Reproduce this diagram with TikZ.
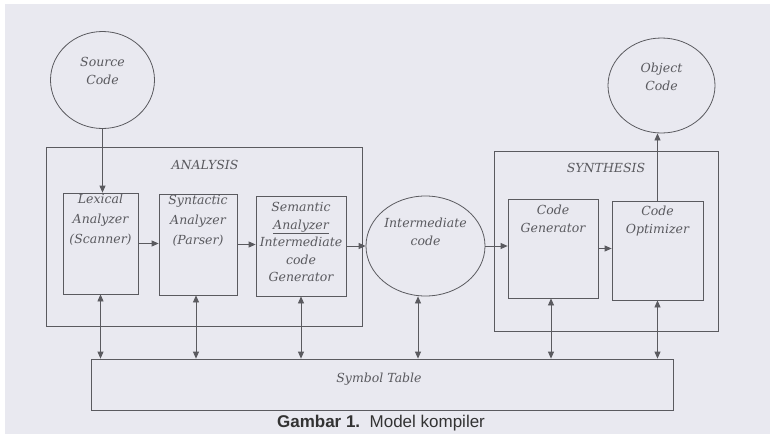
\documentclass[tikz,border=0pt]{standalone}
\usepackage{fontspec}
\setmainfont{DejaVu Serif}
\newfontfamily\capfont{Liberation Sans}
\usetikzlibrary{shapes.geometric,arrows.meta}
\definecolor{bgcol}{RGB}{233,233,240}
\definecolor{linecol}{RGB}{90,90,95}
\definecolor{txtcol}{RGB}{90,90,95}
\tikzset{
  boxshape/.style={draw=linecol, line width=0.8pt, rectangle, inner sep=0pt},
  ovalshape/.style={draw=linecol, line width=0.8pt, ellipse, inner sep=0pt},
  lbl/.style={text=txtcol, font=\fontsize{12.5}{18}\selectfont\itshape, align=center, inner sep=0pt},
  lbltight/.style={lbl, font=\fontsize{12.5}{17.5}\selectfont\itshape},
  lblwide/.style={lbl, font=\fontsize{12.5}{20}\selectfont\itshape},
  arr/.style={draw=linecol, line width=0.8pt, -{Triangle[length=7pt,width=6pt]}},
  darr/.style={draw=linecol, line width=0.8pt, {Triangle[length=7pt,width=6pt]}-{Triangle[length=7pt,width=6pt]}},
}
\begin{document}
\begin{tikzpicture}[x=1pt,y=-1pt]
\fill[white] (0,0) rectangle (770,434);
\fill[bgcol] (5,4) rectangle (770,434);
\useasboundingbox (0,0) rectangle (770,434);

% containers
\node[boxshape, minimum width=316pt, minimum height=179pt] (ana) at (204,236.5) {};
\node[boxshape, minimum width=224pt, minimum height=180pt] (synt) at (606,241) {};
\node[lbl] (anat) at (205,165) {ANALYSIS};
\node[lbl] (syntt) at (606,168) {SYNTHESIS};

% terminals
\node[ovalshape, minimum width=104pt, minimum height=97pt] (src) at (102.5,80) {};
\node[lbl] (srct) at (102.5,70.5) {Source\\Code};
\node[ovalshape, minimum width=107pt, minimum height=95pt] (obj) at (661.5,85.5) {};
\node[lbl] (objt) at (661.5,77) {Object\\Code};

% phases
\node[boxshape, minimum width=75pt, minimum height=101pt] (lex) at (100.5,243.5) {};
\node[lblwide] (lext) at (100.5,220) {Lexical\\Analyzer\\(Scanner)};
\node[boxshape, minimum width=78pt, minimum height=101pt] (syn) at (198,244.5) {};
\node[lblwide] (synt2) at (198,221) {Syntactic\\Analyzer\\(Parser)};
\node[boxshape, minimum width=90pt, minimum height=100pt] (sem) at (301,246) {};
\node[lbltight] (semt) at (301,242) {Semantic\\\underline{Analyzer}\\Intermediate\\code\\Generator};
\node[ovalshape, minimum width=119pt, minimum height=100pt] (inter) at (425.5,246) {};
\node[lbl] (intert) at (425.5,232) {Intermediate\\code};
\node[boxshape, minimum width=90pt, minimum height=99pt] (gen) at (553,248.5) {};
\node[lbltight] (gent) at (553,219) {Code\\Generator};
\node[boxshape, minimum width=91pt, minimum height=99pt] (opt) at (657.5,250.5) {};
\node[lbltight] (optt) at (657.5,221) {Code\\Optimizer};

% symbol table
\node[boxshape, minimum width=582pt, minimum height=51pt] (sym) at (382,384.5) {};
\node[lbl] (symt) at (379,379) {Symbol Table};

% flow
\draw[arr] (src.south) -- (src.south |- lex.north);
\draw[arr] (lex.east) -- (lex.east -| syn.west);
\draw[arr] (syn.east) -- (syn.east -| sem.west);
\draw[arr] (sem.east) -- (sem.east -| inter.west);
\draw[arr] (inter.east) -- (inter.east -| gen.west);
\draw[arr] (gen.east) -- (gen.east -| opt.west);
\draw[arr] (opt.north) -- (opt.north |- obj.south);

% symbol table links
\draw[darr] (lex.south) -- (lex.south |- sym.north);
\draw[darr] ([xshift=-2pt]syn.south) -- ([xshift=-2pt]syn.south |- sym.north);
\draw[darr] (sem.south) -- (sem.south |- sym.north);
\draw[darr] ([xshift=-7.5pt]inter.south) -- ([xshift=-7.5pt]inter.south |- sym.north);
\draw[darr] ([xshift=-2pt]gen.south) -- ([xshift=-2pt]gen.south |- sym.north);
\draw[darr] (opt.south) -- (opt.south |- sym.north);

% caption
\node[text=black!80, font=\capfont\fontsize{17}{20}\selectfont, inner sep=0pt] (cap) at (381,423) {\textbf{Gambar 1.}\ \ Model kompiler};
\end{tikzpicture}
\end{document}
